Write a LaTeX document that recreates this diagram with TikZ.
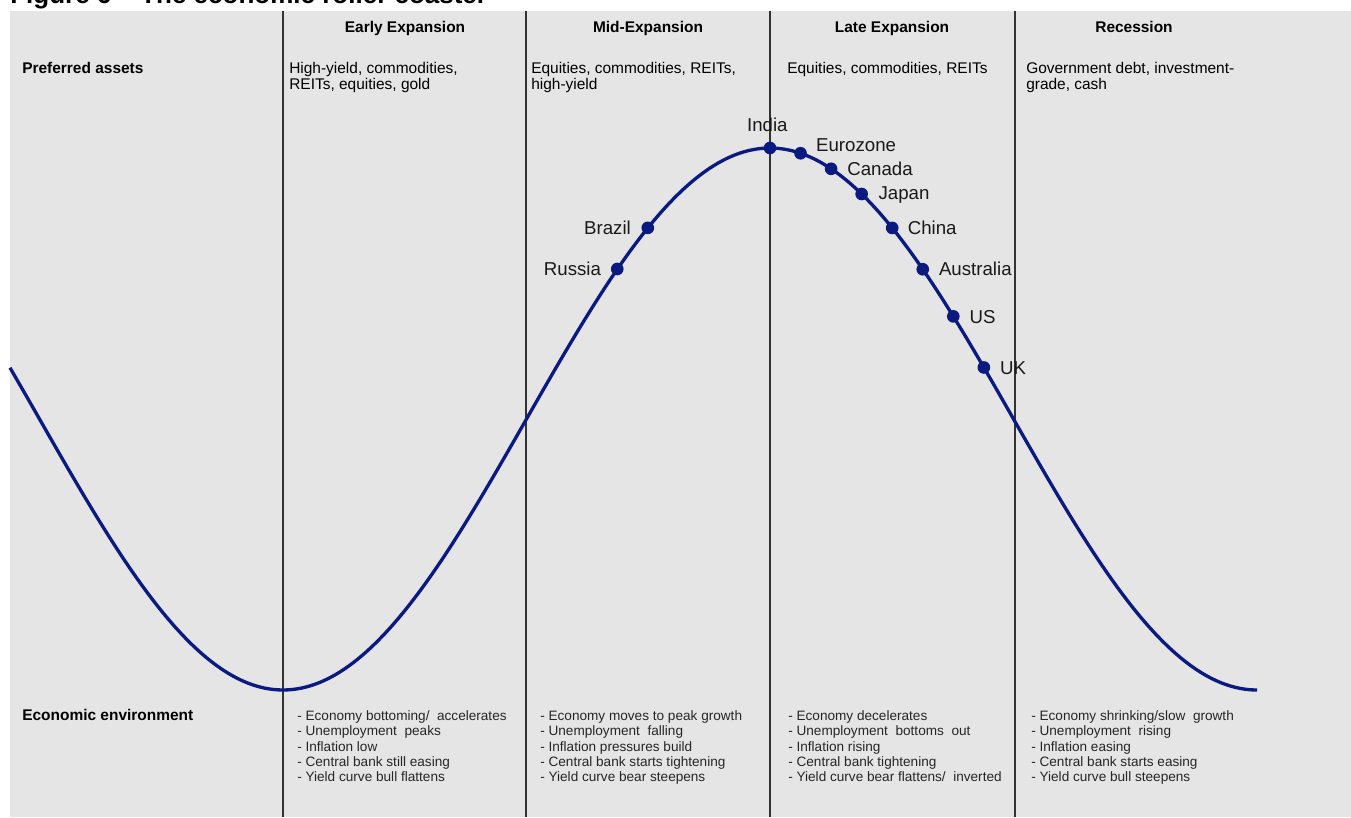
\documentclass[tikz,border=0pt]{standalone}
\usepackage{fontspec}
\setmainfont{Liberation Sans}
\definecolor{panel}{RGB}{229,229,229}
\definecolor{navy}{RGB}{10,26,128}
\begin{document}
\begin{tikzpicture}[x=0.75pt,y=-0.75pt,
  phase/.style={font=\bfseries\fontsize{11.6pt}{12pt}\selectfont, anchor=base, inner sep=0pt},
  rowlabel/.style={font=\bfseries\fontsize{11.6pt}{12pt}\selectfont, anchor=base west, inner sep=0pt},
  assets/.style={font=\fontsize{11.6pt}{12pt}\selectfont, anchor=north west, inner sep=0pt, align=left},
  envlist/.style={font=\fontsize{10.2pt}{11.6pt}\selectfont, anchor=north west, inner sep=0pt, align=left, text=black!85},
  divider/.style={line width=0.9pt, black!80},
  cyclecurve/.style={navy, line width=2.5pt},
  dot/.style={circle, fill=navy, inner sep=0pt, minimum size=9.5pt},
  country/.style={font=\fontsize{14pt}{16pt}\selectfont, inner sep=0pt, text=black!90}
]
\useasboundingbox (0,0) rectangle (1351,817);

% title, partly cut by the page edge
\node[font=\bfseries\fontsize{19.5pt}{22pt}\selectfont, anchor=base west, inner sep=0pt] (title) at (10,4) {Figure 6 -- The economic roller coaster};

% grey panel
\fill[panel] (10,11) rectangle (1351,817);

% column dividers
\foreach \xx in {283,526,770,1015}
  \draw[divider] (\xx,11) -- (\xx,817);

% phase headings
\node[phase] (early) at (405,32.5) {Early Expansion};
\node[phase] (mid)   at (648,32.5) {Mid-Expansion};
\node[phase] (late)  at (892,32.5) {Late Expansion};
\node[phase] (rec)   at (1134,32.5) {Recession};

% preferred assets row
\node[rowlabel] (assetsrow) at (22,73.5) {Preferred assets};
\node[assets] (a1) at (289,62) {High-yield, commodities,\\REITs, equities, gold};
\node[assets] (a2) at (531,62) {Equities, commodities, REITs,\\high-yield};
\node[assets] (a3) at (787,62) {Equities, commodities, REITs};
\node[assets] (a4) at (1026,62) {Government debt, investment-\\grade, cash};

% economic environment row
\node[rowlabel] (envrow) at (22,720.5) {Economic environment};
\node[envlist] (e1) at (297,710) {- Economy bottoming/\ \ accelerates\\- Unemployment\ \ peaks\\- Inflation low\\- Central bank still easing\\- Yield curve bull flattens};
\node[envlist] (e2) at (540,710) {- Economy moves to peak growth\\- Unemployment\ \ falling\\- Inflation pressures build\\- Central bank starts tightening\\- Yield curve bear steepens};
\node[envlist] (e3) at (788,710) {- Economy decelerates\\- Unemployment\ \ bottoms\ \ out\\- Inflation rising\\- Central bank tightening\\- Yield curve bear flattens/\ \ inverted};
\node[envlist] (e4) at (1031,710) {- Economy shrinking/slow\ \ growth\\- Unemployment\ \ rising\\- Inflation easing\\- Central bank starts easing\\- Yield curve bull steepens};

% the business cycle
\draw[cyclecurve] plot[domain=10:1257, samples=300, smooth] (\x,{419-271*cos(((\x-770)/974)*360)});

% countries on the cycle
\foreach \k/\nm in {-5/russia,-4/brazil,0/india,1/euro,2/canada,3/japan,4/china,5/australia,6/us,7/uk}{
  \pgfmathsetmacro{\px}{770+30.55*\k}
  \pgfmathsetmacro{\py}{419-271*cos((30.55*\k/974)*360)}
  \node[dot] (\nm) at (\px,\py) {};
}
\node[country, anchor=base] (lindia) at ([xshift=-2pt,yshift=12.5pt]india.center) {India};
\node[country, anchor=base west] (leuro) at ([xshift=11.5pt,yshift=1pt]euro.center) {Eurozone};
\node[country, anchor=base west] (lcanada) at ([xshift=12pt,yshift=-5pt]canada.center) {Canada};
\node[country, anchor=base west] (ljapan) at ([xshift=12.5pt,yshift=-4pt]japan.center) {Japan};
\node[country, anchor=base west] (lchina) at ([xshift=11.5pt,yshift=-5pt]china.center) {China};
\node[country, anchor=base west] (laus) at ([xshift=12pt,yshift=-5pt]australia.center) {Australia};
\node[country, anchor=base west] (lus) at ([xshift=12pt,yshift=-5pt]us.center) {US};
\node[country, anchor=base west] (luk) at ([xshift=12pt,yshift=-5pt]uk.center) {UK};
\node[country, anchor=base east] (lbrazil) at ([xshift=-12.5pt,yshift=-5pt]brazil.center) {Brazil};
\node[country, anchor=base east] (lrussia) at ([xshift=-12pt,yshift=-5pt]russia.center) {Russia};
\end{tikzpicture}
\end{document}
